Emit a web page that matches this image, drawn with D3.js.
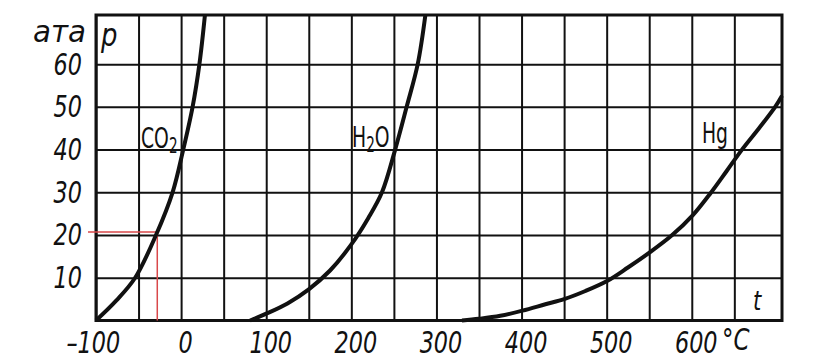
<!DOCTYPE html>
<html>
<head>
<meta charset="utf-8">
<script src="https://cdn.jsdelivr.net/npm/d3@7"></script>
<style>
  body { margin: 0; background: #fff; }
  svg { display: block; }
  text { font-family: "Liberation Sans Narrow", "DejaVu Sans Condensed", sans-serif; fill: #111; }
  .domain { display: none; }
</style>
</head>
<body>
<script>
// temperature in degC, pressure in ata
const tempTicks = [-100, 0, 100, 200, 300, 400, 500, 600]
const tempGrid = [-100, -50, 0, 50, 100, 150, 200, 250, 300, 350, 400, 450, 500, 550, 600, 650]
const pressTicks = [10, 20, 30, 40, 50, 60]

const co2T = [-100, -76, -54, -29.5, -10, 2.5, 13.5, 21.5, 28]
const co2P = [0, 4.7, 10, 20, 30, 40, 50, 60, 71.5]

const h2oT = [81, 100, 125, 150, 175, 200, 220, 236, 251.5, 265, 278, 287]
const h2oP = [0, 1.6, 4.0, 7.3, 11.7, 17.8, 24, 30, 40, 50, 60, 71.5]

const hgT = [330, 350, 375, 401, 428, 450, 475, 501, 525, 551, 577, 601, 622, 641, 659, 679, 698, 706]
const hgP = [0, 0.4, 1.1, 2.3, 3.8, 5.0, 6.9, 9.3, 12.4, 16.0, 20.0, 24.6, 29.8, 35, 40, 45, 50, 52.6]

const series = [
  {name: "CO", sub: "2", tail: "", t: co2T, p: co2P, lx: 141, ly: 148},
  {name: "H", sub: "2", tail: "O", t: h2oT, p: h2oP, lx: 352, ly: 147},
  {name: "Hg", sub: "", tail: "", t: hgT, p: hgP, lx: 702, ly: 143}
]

// red reading marker on the CO2 curve
const markT = -28
const markP = 20.7

const W = 825, H = 364
const plotL = 96, plotR = 782, plotT = 15, plotB = 320.5

const svg = d3.select("body").append("svg")
    .attr("width", W)
    .attr("height", H)

const x = d3.scaleLinear().domain([-100, 706]).range([plotL, plotR])
const y = d3.scaleLinear().domain([0, 71.5]).range([plotB, plotT])

// grid
svg.append("g")
    .attr("transform", `translate(0,${plotB})`)
    .call(d3.axisBottom(x).tickValues(tempGrid).tickSize(-(plotB - plotT)).tickFormat(""))
    .selectAll("line").attr("stroke", "#111").attr("stroke-width", 2)

svg.append("g")
    .attr("transform", `translate(${plotL},0)`)
    .call(d3.axisLeft(y).tickValues(pressTicks).tickSize(-(plotR - plotL)).tickFormat(""))
    .selectAll("line").attr("stroke", "#111").attr("stroke-width", 2)

// frame
svg.append("rect")
    .attr("x", plotL).attr("y", plotT)
    .attr("width", plotR - plotL).attr("height", plotB - plotT)
    .attr("fill", "none").attr("stroke", "#111").attr("stroke-width", 3)

// tick labels, narrow slanted lettering
const xLab = svg.append("g")
    .attr("transform", `translate(4,${plotB + 7})`)
    .call(d3.axisBottom(x).tickValues(tempTicks).tickSize(0)
      .tickFormat(function (d) { return d < 0 ? "\u2013" + Math.abs(d) : d }))
xLab.selectAll("text")
    .attr("font-size", 31).attr("font-style", "italic")
    .attr("dy", "0.71em")
    .attr("dx", function (d) { return d < 0 ? -9 : 0 })
    .attr("transform", "scale(0.8,1)")

const yLab = svg.append("g")
    .attr("transform", `translate(82,0)`)
    .call(d3.axisLeft(y).tickValues(pressTicks).tickSize(0))
yLab.selectAll("text")
    .attr("font-size", 31).attr("font-style", "italic")
    .attr("x", 0)
    .attr("transform", "scale(0.8,1)")

function label(tx, ty, size, sx, str) {
  return svg.append("text")
      .attr("transform", `translate(${tx},${ty}) scale(${sx},1)`)
      .attr("font-size", size).attr("font-style", "italic")
      .text(str)
}
label(722, 350, 30, 0.85, "°C")
label(86, 42, 31, 1.05, "ата").attr("text-anchor", "end")
label(101, 46, 32, 0.9, "p")
label(753, 310, 26, 0.9, "t")

// red marker
svg.append("path")
    .attr("d", `M${plotL - 8},${y(markP)}H${x(markT)}V${plotB}`)
    .attr("fill", "none").attr("stroke", "#d9484a").attr("stroke-width", 1.5)

// curves
const line = d3.line()
    .x(function (d) { return x(d[0]) })
    .y(function (d) { return y(d[1]) })
    .curve(d3.curveCatmullRom.alpha(0.5))

svg.selectAll("path.curve")
    .data(series)
    .enter().append("path")
    .attr("class", "curve")
    .attr("d", function (s) { return line(s.t.map(function (t, i) { return [t, s.p[i]] })) })
    .attr("fill", "none").attr("stroke", "#111").attr("stroke-width", 4)

// curve names with subscripts
const names = svg.selectAll("text.name")
    .data(series)
    .enter().append("text")
    .attr("class", "name")
    .attr("transform", function (s) { return `translate(${s.lx},${s.ly}) scale(0.72,1)` })
    .attr("font-size", 29)
names.append("tspan").text(function (s) { return s.name })
names.append("tspan").attr("font-size", 21).attr("dy", 5).text(function (s) { return s.sub })
names.append("tspan").attr("dy", -5).text(function (s) { return s.tail })
</script>
</body>
</html>
